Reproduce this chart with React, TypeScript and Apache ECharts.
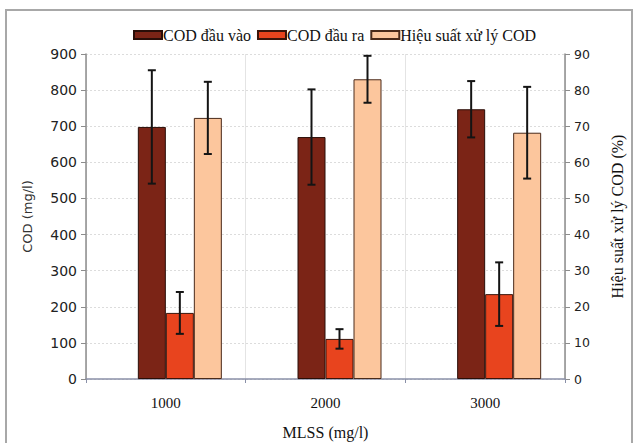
import React, { useEffect, useRef } from "react";
import * as echarts from "echarts";

const categories = ["1000", "2000", "3000"];
const codIn = [698, 670, 747];
const codInErr = [157, 132, 78];
const codOut = [183, 111, 235];
const codOutErr = [58, 27, 88];
const efficiency = [72.3, 83.0, 68.2];
const efficiencyErr = [10.0, 6.5, 12.7];
const leftTicks = { min: 0, max: 900, interval: 100 };
const rightTicks = { min: 0, max: 90, interval: 10 };

const BAR_W = 28;
const SLOTS = 4;

function errData(vals: number[], errs: number[]) {
  return vals.map((v, i) => [i, v - errs[i], v + errs[i]]);
}

function errSeries(name: string, data: number[][], slot: number, yAxisIndex: number) {
  const offset = (slot - (SLOTS - 1) / 2) * BAR_W;
  return {
    type: "custom",
    name: name + "_err",
    yAxisIndex,
    z: 10,
    silent: true,
    data,
    renderItem: (params: any, api: any) => {
      const c = api.value(0);
      const lo = api.coord([c, api.value(1)]);
      const hi = api.coord([c, api.value(2)]);
      const x = lo[0] + offset;
      const cap = 4;
      const style = { stroke: "#141414", lineWidth: 2 };
      return {
        type: "group",
        children: [
          { type: "line", shape: { x1: x, y1: lo[1], x2: x, y2: hi[1] }, style },
          { type: "line", shape: { x1: x - cap, y1: lo[1], x2: x + cap, y2: lo[1] }, style },
          { type: "line", shape: { x1: x - cap, y1: hi[1], x2: x + cap, y2: hi[1] }, style },
        ],
      };
    },
  };
}

export default function App() {
  const ref = useRef<HTMLDivElement>(null);
  useEffect(() => {
    if (!ref.current) return;
    const chart = echarts.init(ref.current, null, { renderer: "svg" });
    const serif = "'Liberation Serif', 'DejaVu Serif', serif";
    const sans = "DejaVu Sans";
    chart.setOption({
      animation: false,
      backgroundColor: "#ffffff",
      graphic: [
        {
          type: "rect",
          shape: { x: 6, y: 10, width: 626, height: 445 },
          style: { fill: "none", stroke: "#a8a8a8", lineWidth: 2 },
          silent: true,
        },
      ],
      legend: {
        data: ["COD đầu vào", "COD đầu ra", "Hiệu suất xử lý COD"],
        top: 22,
        left: 128,
        itemWidth: 28,
        itemHeight: 8,
        itemGap: 6,
        icon: "rect",
        textStyle: { fontFamily: serif, fontSize: 16, color: "#111", padding: [0, 0, 0, -4] },
      },
      grid: { left: 86, right: 70, top: 54, bottom: 64, containLabel: false, outerBoundsMode: "none" },
      xAxis: {
        type: "category",
        data: categories,
        name: "MLSS (mg/l)",
        nameLocation: "middle",
        nameGap: 45,
        nameTextStyle: { fontFamily: serif, fontSize: 16, color: "#111" },
        axisLine: { lineStyle: { color: "#8a90a8", width: 1.5 } },
        axisTick: { show: true, length: 4, lineStyle: { color: "#8a90a8" } },
        axisLabel: { fontFamily: serif, fontSize: 15, color: "#111", margin: 16 },
        splitLine: { show: true, lineStyle: { color: "#e4e4e4", width: 1 } },
      },
      yAxis: [
        {
          type: "value",
          min: leftTicks.min,
          max: leftTicks.max,
          interval: leftTicks.interval,
          name: "COD (mg/l)",
          nameLocation: "middle",
          nameGap: 52,
          nameRotate: 90,
          nameTextStyle: { fontFamily: sans, fontSize: 13, color: "#333" },
          axisLine: { show: true, lineStyle: { color: "#8c8c8c", width: 1.5 } },
          axisTick: { show: true, length: 5, lineStyle: { color: "#8c8c8c" } },
          axisLabel: { fontFamily: sans, fontSize: 14, color: "#222", margin: 9 },
          splitLine: { show: true, lineStyle: { color: "#dcdcdc", type: [2, 2] } },
        },
        {
          type: "value",
          min: rightTicks.min,
          max: rightTicks.max,
          interval: rightTicks.interval,
          position: "right",
          name: "Hiệu suất xử lý COD (%)",
          nameLocation: "middle",
          nameGap: 44,
          nameRotate: 90,
          nameTextStyle: { fontFamily: serif, fontSize: 16, color: "#111" },
          axisLine: { show: true, lineStyle: { color: "#8c8c8c", width: 1.5 } },
          axisTick: { show: true, length: 5, lineStyle: { color: "#8c8c8c" } },
          axisLabel: { fontFamily: sans, fontSize: 12.5, color: "#222", margin: 9 },
          splitLine: { show: false },
        },
      ],
      series: [
        {
          type: "bar",
          name: "spacer",
          barWidth: BAR_W,
          barGap: "0%",
          data: categories.map(() => null),
        },
        {
          type: "bar",
          name: "COD đầu vào",
          barWidth: BAR_W,
          barGap: "0%",
          data: codIn,
          itemStyle: { color: "#7b2416", borderColor: "#2a0e08", borderWidth: 1 },
        },
        {
          type: "bar",
          name: "COD đầu ra",
          barWidth: BAR_W,
          barGap: "0%",
          data: codOut,
          itemStyle: { color: "#e8441e", borderColor: "#3a140a", borderWidth: 1 },
        },
        {
          type: "bar",
          name: "Hiệu suất xử lý COD",
          yAxisIndex: 1,
          barWidth: BAR_W,
          barGap: "0%",
          data: efficiency,
          itemStyle: { color: "#fcc69d", borderColor: "#4a2a1a", borderWidth: 1 },
        },
        errSeries("COD đầu vào", errData(codIn, codInErr), 1, 0),
        errSeries("COD đầu ra", errData(codOut, codOutErr), 2, 0),
        errSeries("Hiệu suất xử lý COD", errData(efficiency, efficiencyErr), 3, 1),
      ],
    });
    return () => chart.dispose();
  }, []);
  return (
    <div
      ref={ref}
      style={{ position: "absolute", left: 0, top: 0, width: 635, height: 443 }}
    />
  );
}
